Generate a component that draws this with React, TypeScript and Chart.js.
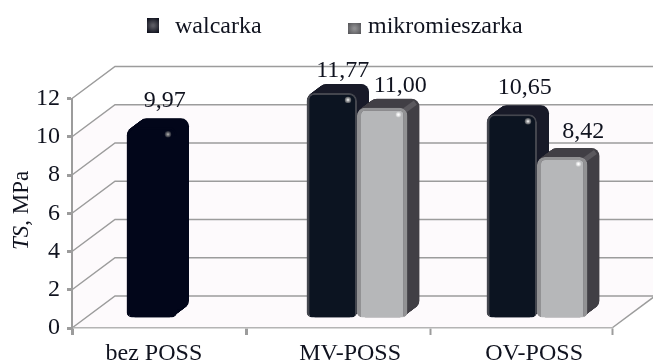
import { useEffect, useRef } from "react";
import { Chart, registerables } from "chart.js";

Chart.register(...registerables);

const categories = ["bez POSS", "MV-POSS", "OV-POSS"];
const walcarka = [9.97, 11.77, 10.65];
const mikromieszarka = [null, 11.0, 8.42];
const seriesNames = ["walcarka", "mikromieszarka"];
const yTicks = [0, 2, 4, 6, 8, 10, 12];
const xTickMarks = [0, 0.97, 1.99, 3];
const xLabelSlots = [0.455, 1.545, 2.567];

const SERIF = "'Liberation Serif', serif";
const INK = "#10131f";
const GRID = "#9c9c9c";
const WALL = { x: 43, y: 32 };
const BAR_SHIFT = { x: 15, y: 10 };
const BAR_DEPTH = { x: 12, y: 9 };

// Front, border and extrusion colours for each series, with the first
// column of the rolling-mill series painted as a single dark silhouette.
const frontColors = [["#02061a", "#0c1421", "#0c1421"], ["#b6b7b9", "#b6b7b9", "#b6b7b9"]];
const edgeColors = [["#02061a", "#44464e", "#44464e"], ["#929294", "#929294", "#929294"]];
const sideColors = [["#02061a", "#181a28", "#181a28"], ["#413f45", "#413f45", "#413f45"]];
const labelNudgesX = [[0, -2, 0], [0, 5, 8]];
const labelNudgesY = [[-4, 0, -4], [0, 0, -3]];

const fmt = (v: number) => v.toFixed(2).replace(".", ",");

const scenePlugin = {
  id: "scene",
  beforeDraw(chart: any) {
    const { ctx, scales } = chart;
    const y = scales.y;
    const x = scales.xMarks;
    const l = x.left, r = x.right, b = y.bottom;
    const W = chart.width;
    ctx.save();
    // side wall, back wall and floor of the box
    ctx.fillStyle = "#fdfafc";
    ctx.beginPath();
    ctx.moveTo(l, y.getPixelForValue(10));
    ctx.lineTo(l + WALL.x, y.getPixelForValue(10) - WALL.y);
    ctx.lineTo(W, y.getPixelForValue(10) - WALL.y);
    ctx.lineTo(W, b - WALL.y);
    ctx.lineTo(r, b);
    ctx.lineTo(l, b);
    ctx.closePath();
    ctx.fill();
    ctx.strokeStyle = GRID;
    ctx.lineWidth = 1.5;
    for (const v of yTicks) {
      const py = y.getPixelForValue(v);
      ctx.beginPath();
      ctx.moveTo(l, py);
      ctx.lineTo(l + WALL.x, py - WALL.y);
      ctx.lineTo(W, py - WALL.y);
      ctx.stroke();
    }
    ctx.beginPath();
    ctx.moveTo(r, b);
    ctx.lineTo(r + WALL.x, b - WALL.y);
    ctx.stroke();
    ctx.restore();
  },
  // Columns are painted here, left series first, so that the right-hand
  // column of a pair overlaps the side face of its neighbour.
  beforeDatasetsDraw(chart: any) {
    const { ctx } = chart;
    chart.data.datasets.forEach((ds: any, i: number) => {
      const meta = chart.getDatasetMeta(i);
      ctx.save();
      ctx.translate(BAR_SHIFT.x, -BAR_SHIFT.y);
      // sweep each bar's outline backwards to build its top and side faces
      meta.data.forEach((el: any, k: number) => {
        if (ds.data[k] == null) return;
        const p = el.getProps(["x", "y", "base", "width"], true);
        ctx.fillStyle = sideColors[i][k];
        const steps = 24;
        for (let s = 1; s <= steps; s++) {
          const f = s / steps;
          ctx.beginPath();
          ctx.roundRect(p.x - p.width / 2 + BAR_DEPTH.x * f, p.y - BAR_DEPTH.y * f, p.width, p.base - p.y, 8);
          ctx.fill();
        }
        // lighter facet on the bevelled top corner of the grey columns
        if (i === 1) {
          const right = p.x + p.width / 2;
          ctx.strokeStyle = "#5b595e";
          ctx.lineWidth = 5;
          ctx.beginPath();
          ctx.moveTo(right - 3, p.y + 3);
          ctx.lineTo(right + BAR_DEPTH.x - 4, p.y - BAR_DEPTH.y + 4);
          ctx.stroke();
        }
      });
      meta.controller.draw();
      // small specular spot near the top corner of each column
      meta.data.forEach((el: any, k: number) => {
        if (ds.data[k] == null) return;
        const p = el.getProps(["x", "y", "width"], true);
        const cx = p.x + p.width / 2 - 9;
        const cy = p.y + 7;
        const dark = i === 0;
        const g = ctx.createRadialGradient(cx, cy, 0.5, cx, cy, dark ? 3.2 : 2.8);
        g.addColorStop(0, dark ? (k === 0 ? "#a0a0a0" : "#e4e4e4") : "#ffffff");
        g.addColorStop(1, dark ? (k === 0 ? "rgba(120,120,120,0.3)" : "rgba(130,130,130,0.6)") : "rgba(255,255,255,0.2)");
        ctx.fillStyle = g;
        ctx.beginPath();
        ctx.arc(cx, cy, dark ? 3.2 : 2.8, 0, Math.PI * 2);
        ctx.fill();
      });
      ctx.restore();
    });
  },
  beforeDatasetDraw() {
    return false;
  },
  afterDatasetsDraw(chart: any) {
    const { ctx } = chart;
    ctx.save();
    ctx.fillStyle = INK;
    ctx.font = `24px ${SERIF}`;
    ctx.textAlign = "center";
    ctx.textBaseline = "alphabetic";
    chart.data.datasets.forEach((ds: any, i: number) => {
      chart.getDatasetMeta(i).data.forEach((el: any, k: number) => {
        const v = ds.data[k];
        if (v == null) return;
        const p = el.getProps(["x", "y"], true);
        ctx.fillText(
          fmt(v),
          p.x + BAR_SHIFT.x + 13 + labelNudgesX[i][k],
          p.y - BAR_SHIFT.y - BAR_DEPTH.y - 7 + labelNudgesY[i][k],
        );
      });
    });

    // legend
    const swatches = [
      { x: 147, y: 18, w: 12, h: 15, a: "#5a5a62", c: "#0e101c", tx: 175 },
      { x: 348, y: 23, w: 13, h: 11, a: "#8e8e90", c: "#4a4a4e", tx: 368 },
    ];
    ctx.textAlign = "left";
    chart.data.datasets.forEach((ds: any, i: number) => {
      const s = swatches[i];
      const g = ctx.createRadialGradient(s.x + s.w / 2, s.y + s.h / 2, 1, s.x + s.w / 2, s.y + s.h / 2, s.w / 1.4);
      g.addColorStop(0, s.a);
      g.addColorStop(1, s.c);
      ctx.fillStyle = g;
      ctx.fillRect(s.x, s.y, s.w, s.h);
      ctx.fillStyle = INK;
      ctx.fillText(seriesNames[i], s.tx, 33);
    });

    // rotated axis title with an italic symbol
    ctx.translate(28, 250);
    ctx.rotate(-Math.PI / 2);
    ctx.font = `italic 23px ${SERIF}`;
    ctx.fillText("TS", 0, 0);
    const w = ctx.measureText("TS").width;
    ctx.font = `23px ${SERIF}`;
    ctx.fillText(", MPa", w, 0);
    ctx.restore();
  },
};

export default function App() {
  const ref = useRef<HTMLCanvasElement>(null);
  useEffect(() => {
    const chart = new Chart(ref.current!, {
      type: "bar",
      data: {
        labels: categories,
        datasets: [
          {
            label: seriesNames[0],
            data: walcarka,
            backgroundColor: frontColors[0],
            borderColor: edgeColors[0],
            borderWidth: { left: 3, right: 2, top: 2, bottom: 0 },
            borderRadius: { topLeft: 8, topRight: 8, bottomLeft: 5, bottomRight: 5 },
            borderSkipped: false,
            clip: false,
          },
          {
            label: seriesNames[1],
            data: mikromieszarka,
            backgroundColor: frontColors[1],
            borderColor: edgeColors[1],
            borderWidth: { left: 4, right: 4, top: 3, bottom: 0 },
            borderRadius: { topLeft: 8, topRight: 8, bottomLeft: 5, bottomRight: 5 },
            borderSkipped: false,
            clip: false,
          },
        ] as any,
      },
      plugins: [scenePlugin],
      options: {
        animation: false,
        responsive: false,
        events: [],
        layout: { padding: { top: 98.5, right: 41, left: 0, bottom: 0 } },
        datasets: { bar: { categoryPercentage: 0.56, barPercentage: 1 } },
        plugins: { legend: { display: false }, tooltip: { enabled: false } },
        scales: {
          x: { type: "category", display: false, offset: true },
          xMarks: {
            type: "linear",
            position: "bottom",
            min: 0,
            max: 3,
            offset: false,
            afterBuildTicks(scale: any) {
              scale.ticks = [...xTickMarks, ...xLabelSlots]
                .sort((a, b) => a - b)
                .map((value) => ({ value }));
            },
            afterFit(scale: any) {
              scale.height = 32;
            },
            border: { color: "#b4b4b4", width: 1.5 },
            grid: {
              offset: false,
              drawOnChartArea: false,
              tickLength: 7,
              tickWidth: (c: any) => (c.tick && c.tick.value < 1 ? 3 : 2),
              tickColor: (c: any) =>
                c.tick && xTickMarks.includes(c.tick.value) ? GRID : "rgba(0,0,0,0)",
            },
            ticks: {
              autoSkip: false,
              maxRotation: 0,
              minRotation: 0,
              padding: 4,
              color: INK,
              font: { family: SERIF, size: 24 },
              callback: (v: any) => {
                const i = xLabelSlots.indexOf(v);
                return i >= 0 ? categories[i] : "";
              },
            },
          },
          y: {
            type: "linear",
            min: 0,
            max: 12,
            afterFit(scale: any) {
              scale.width = 72;
            },
            border: { color: GRID, width: 2 },
            grid: { drawOnChartArea: false, tickLength: 5, tickWidth: 3, tickColor: GRID },
            ticks: {
              stepSize: 2,
              padding: 7,
              color: INK,
              font: { family: SERIF, size: 24 },
            },
          },
        },
      } as any,
    });
    return () => chart.destroy();
  }, []);
  return (
    <div style={{ position: "absolute", left: 0, top: 0, width: 653, height: 360 }}>
      <canvas ref={ref} width={653} height={360} style={{ display: "block" }} />
    </div>
  );
}
